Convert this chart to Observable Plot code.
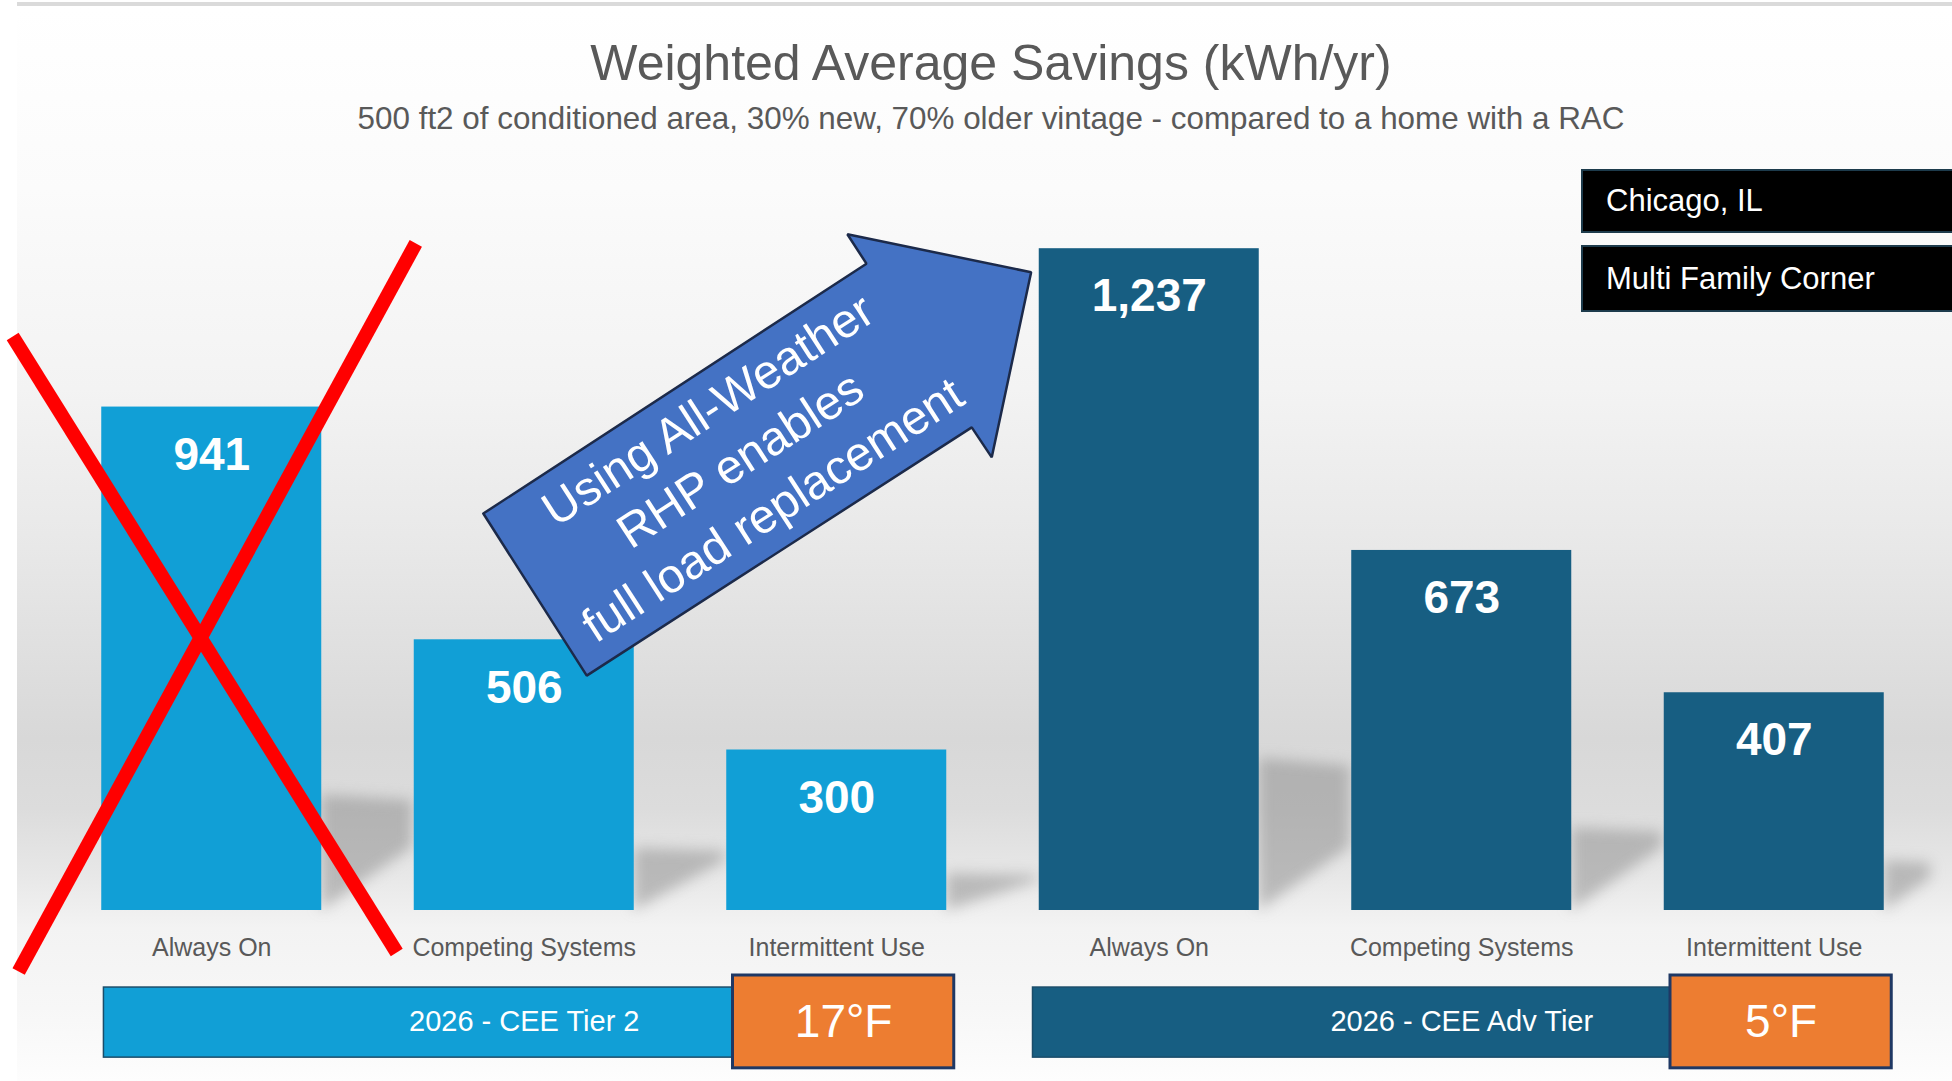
<!DOCTYPE html>
<html>
<head>
<meta charset="utf-8">
<script src="https://cdn.jsdelivr.net/npm/d3@7"></script>
<script src="https://cdn.jsdelivr.net/npm/@observablehq/plot@0.6"></script>
<style>
  html, body { margin: 0; padding: 0; background: #ffffff; }
  body { width: 1952px; height: 1081px; position: relative; overflow: hidden;
         font-family: "Liberation Sans", Arial, sans-serif; }
  #topline { position: absolute; left: 17px; top: 2px; width: 1935px; height: 4px; background: #dadada; }
  #bg { position: absolute; left: 17px; top: 8px; width: 1935px; height: 1073px;
        background: linear-gradient(to bottom, #ffffff 0px, #fbfbfb 180px, #f3f3f3 380px, #e8e8e8 540px,
                    #dedede 660px, #d8d8d8 730px, #dcdcdc 800px, #e8e8e8 870px, #f3f3f3 920px,
                    #f7f7f7 1000px, #fdfdfd 1073px); }
  #title { position: absolute; left: 0; width: 1982px; top: 33px; text-align: center;
           font-size: 50px; line-height: 60px; color: #595959; }
  #subtitle { position: absolute; left: 0; width: 1982px; top: 101px; text-align: center;
              font-size: 31.4px; line-height: 36px; color: #595959; }
  #chart { position: absolute; left: 0; top: 140px; }
  .tag { position: absolute; left: 1581px; width: 400px; background: #000000; border: 2px solid #1d3b4c;
         color: #ffffff; font-size: 31px; box-sizing: border-box; padding-left: 23px;
         display: flex; align-items: center; }
</style>
</head>
<body>
<div id="topline"></div>
<div id="bg"></div>
<div id="title"></div>
<div id="subtitle"></div>
<div id="chart"></div>
<div id="tags"></div>
<script>
// ---------------- data ----------------
const categories = ["Always On", "Competing Systems", "Intermittent Use",
                    "Always On", "Competing Systems", "Intermittent Use"];
const tiers = ["2026 - CEE Tier 2", "2026 - CEE Tier 2", "2026 - CEE Tier 2",
               "2026 - CEE Adv Tier", "2026 - CEE Adv Tier", "2026 - CEE Adv Tier"];
const savings = [941, 506, 300, 1237, 673, 407];
const tierNames = ["2026 - CEE Tier 2", "2026 - CEE Adv Tier"];
const tierTemps = ["17°F", "5°F"];
const locationTags = ["Chicago, IL", "Multi Family Corner"];
const titleText = "Weighted Average Savings (kWh/yr)";
const subtitleText = "500 ft2 of conditioned area, 30% new, 70% older vintage - compared to a home with a RAC";
const arrowLines = ["Using All-Weather", "RHP enables", "full load replacement"];

// ---------------- styles ----------------
const tierColors = ["#119fd6", "#175e82"];

// ---------------- annotation geometry (in scale units: bar index, kWh/yr) ----------------
const arrowX = [0.869, 2.095, 2.034, 2.622, 2.496, 2.432, 1.2];
const arrowY = [742, 1209, 1264, 1193, 847, 903, 439];
const arrowTextPos = {x: 1.686, y: 847, rotate: -33};
const crossOut = [
  {x1: -0.637, y1: 1073, x2: 0.592, y2: -78.5},
  {x1: 0.653, y1: 1247, x2: -0.618, y2: -114}
];
const bandLeftPad = [0.345, 0.372];
const bandY = [-144, -275];
const tempBoxY = [-121.5, -295];
const labelY = -208;

// ---------------- build tables ----------------
const rows = savings.map((v, i) => ({i, category: categories[i], tier: tiers[i], value: v}));
const groups = tierNames.map((t, k) => {
  const idx = rows.filter(r => r.tier === t).map(r => r.i);
  return {tier: t, first: d3.min(idx), last: d3.max(idx), temp: tierTemps[k], pad: bandLeftPad[k]};
});
const HALF = 0.352;
const shadowPts = [];
rows.forEach(r => {
  const x0 = r.i + HALF;
  const x1 = Math.min(x0 + 0.29, 5.5);
  const s = 0.23 * r.value;
  const d = Math.min(118 * (x1 - x0) / 0.29, 0.8 * s);
  shadowPts.push({i: r.i, x: x0, y1: 0, y2: s});
  shadowPts.push({i: r.i, x: x1, y1: d, y2: s * 0.95});
});
const arrowPts = arrowX.map((x, k) => ({x, y: arrowY[k]}));
arrowPts.push(arrowPts[0]);

// ---------------- text ----------------
document.getElementById("title").textContent = titleText;
document.getElementById("subtitle").textContent = subtitleText;
const tagTops = [169, 245], tagHeights = [64, 67];
locationTags.forEach((t, k) => {
  const el = document.createElement("div");
  el.className = "tag";
  el.style.top = tagTops[k] + "px";
  el.style.height = tagHeights[k] + "px";
  el.textContent = t;
  document.getElementById("tags").appendChild(el);
});

// ---------------- chart ----------------
const chart = Plot.plot({
  width: 1952,
  height: 941,
  marginLeft: 55,
  marginRight: 22,
  marginTop: 21,
  marginBottom: 171,
  x: {domain: [-0.5, 5.5], axis: null},
  y: {domain: [0, 1400], axis: null},
  color: {domain: tierNames, range: tierColors},
  style: {background: "transparent", overflow: "visible", fontFamily: "'Liberation Sans', Arial, sans-serif"},
  marks: [
    Plot.areaY(shadowPts, {x: "x", y1: "y1", y2: "y2", z: "i", fill: "#8a8a8a", fillOpacity: 0.5, imageFilter: "blur(7px)"}),
    Plot.rect(rows, {x1: d => d.i - HALF, x2: d => d.i + HALF, y1: 0, y2: "value", fill: "tier"}),
    Plot.text(rows, {x: "i", y: "value", text: d => d3.format(",")(d.value), dy: 48,
                     fill: "#ffffff", fontSize: 46, fontWeight: "bold"}),
    Plot.text(rows, {x: "i", y: 0, text: "category", dy: 37, fill: "#595959", fontSize: 25}),
    Plot.line(arrowPts, {x: "x", y: "y", fill: "#4472c4", stroke: "#1c2a4a", strokeWidth: 2.5,
                         strokeLinejoin: "miter"}),
    Plot.text([arrowLines.join("\n")], {x: arrowTextPos.x, y: arrowTextPos.y, text: d => d,
                     rotate: arrowTextPos.rotate, fill: "#ffffff", fontSize: 48, lineHeight: 1.24,
                     fontFamily: "'Liberation Sans', Arial, sans-serif"}),
    Plot.rect(groups, {x1: d => d.first - d.pad, x2: d => d.last + 0.02, y1: bandY[0], y2: bandY[1],
                       fill: "tier", stroke: "#1b4d6a", strokeWidth: 1.5}),
    Plot.rect(groups, {x1: d => d.last + 0.022 - 0.354, x2: d => d.last + 0.022 + 0.354,
                       y1: tempBoxY[0], y2: tempBoxY[1], fill: "#ed7d31", stroke: "#1f3864", strokeWidth: 3}),
    Plot.text(groups, {x: d => (d.first + d.last) / 2, y: labelY, text: "tier", fill: "#ffffff", fontSize: 29}),
    Plot.text(groups, {x: d => d.last + 0.022, y: labelY, text: "temp", fill: "#ffffff", fontSize: 46}),
    Plot.link(crossOut, {x1: "x1", y1: "y1", x2: "x2", y2: "y2", stroke: "#ff0000", strokeWidth: 14})
  ]
});
document.getElementById("chart").appendChild(chart);
</script>
</body>
</html>
